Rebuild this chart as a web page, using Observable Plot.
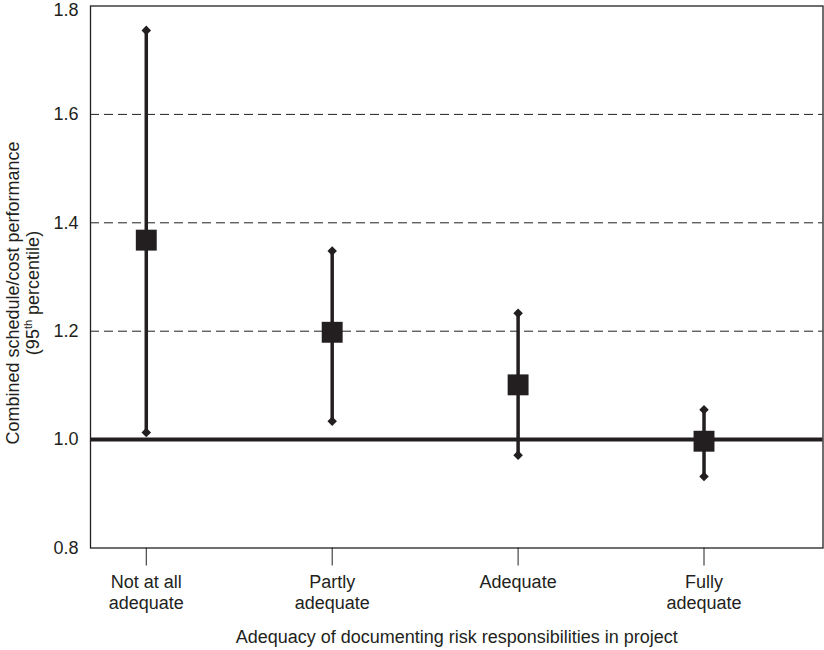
<!DOCTYPE html>
<html><head><meta charset="utf-8">
<script src="https://cdn.jsdelivr.net/npm/d3@7"></script>
<script src="https://cdn.jsdelivr.net/npm/@observablehq/plot@0.6"></script>
<style>body{margin:0;background:#fff} svg{font-family:"Liberation Sans",Arial,sans-serif}</style>
</head><body><div id="chart"></div>
<script>
const categories = ["Not at all\nadequate", "Partly\nadequate", "Adequate", "Fully\nadequate"];
const meanValues = [1.368, 1.198, 1.101, 0.997];
const upperValues = [1.755, 1.348, 1.233, 1.055];
const lowerValues = [1.013, 1.034, 0.971, 0.932];
const gridValues = [1.2, 1.4, 1.6];
const refValue = [1.0];
const yTicks = [0.8, 1.0, 1.2, 1.4, 1.6];
const yTopTick = [1.8];
const xLabel = "Adequacy of documenting risk responsibilities in project";
const yLabel1 = "Combined schedule/cost performance";

const data = categories.map((c, i) => ({pos: i + 1, cat: c, mean: meanValues[i], lo: lowerValues[i], hi: upperValues[i]}));
const ink = "#231f20";
const font = "'Liberation Sans', Arial, sans-serif";

const plot = Plot.plot({
  width: 824, height: 650,
  marginLeft: 90, marginRight: 1.5, marginTop: 5.5, marginBottom: 102.5,
  style: {fontFamily: font, fontSize: "18px", color: ink, background: "#fff"},
  x: {type: "linear", domain: [0.7, 4.64]},
  y: {domain: [0.8, 1.8]},
  marks: [
    Plot.ruleY(gridValues, {stroke: ink, strokeWidth: 1, strokeDasharray: "9,5"}),
    Plot.ruleY(refValue, {stroke: ink, strokeWidth: 4}),
    Plot.ruleX(data, {x: "pos", y1: "lo", y2: "hi", stroke: ink, strokeWidth: 3.5}),
    Plot.dot(data, {x: "pos", y: "hi", symbol: "diamond2", r: 4.3, fill: ink}),
    Plot.dot(data, {x: "pos", y: "lo", symbol: "diamond2", r: 4.3, fill: ink}),
    Plot.dot(data, {x: "pos", y: "mean", symbol: "square", r: 11.8, fill: ink}),
    Plot.frame({stroke: ink, strokeWidth: 1.3}),
    Plot.axisY({ticks: yTicks, tickFormat: d => d.toFixed(1), tickSize: 0, tickPadding: 12, label: null, fontSize: 18, fill: ink}),
    Plot.axisY({ticks: yTopTick, tickFormat: d => d.toFixed(1), tickSize: 0, tickPadding: 12, label: null, fontSize: 18, fill: ink, dy: 4}),
    Plot.axisX({ticks: [1, 2, 3, 4], tickFormat: i => categories[i - 1], tickSize: 18, tickPadding: 6.5, label: null, lineHeight: 1.2, fontSize: 18, stroke: ink, fill: ink}),
    Plot.text([xLabel], {frameAnchor: "bottom", dy: 94.5, fontSize: 18, fill: ink})
  ]
});

const svg = d3.select(plot);
svg.append("text")
  .attr("transform", "translate(18.5,293) rotate(-90)")
  .attr("text-anchor", "middle").attr("fill", ink).attr("font-size", 18).attr("font-family", font)
  .text(yLabel1);
const t2 = svg.append("text")
  .attr("transform", "translate(39,293) rotate(-90)")
  .attr("text-anchor", "middle").attr("fill", ink).attr("font-size", 18).attr("font-family", font);
t2.append("tspan").text("(95");
t2.append("tspan").attr("font-size", 11).attr("dy", -7).text("th");
t2.append("tspan").attr("dy", 7).text(" percentile)");

document.getElementById("chart").appendChild(plot);
</script></body></html>
